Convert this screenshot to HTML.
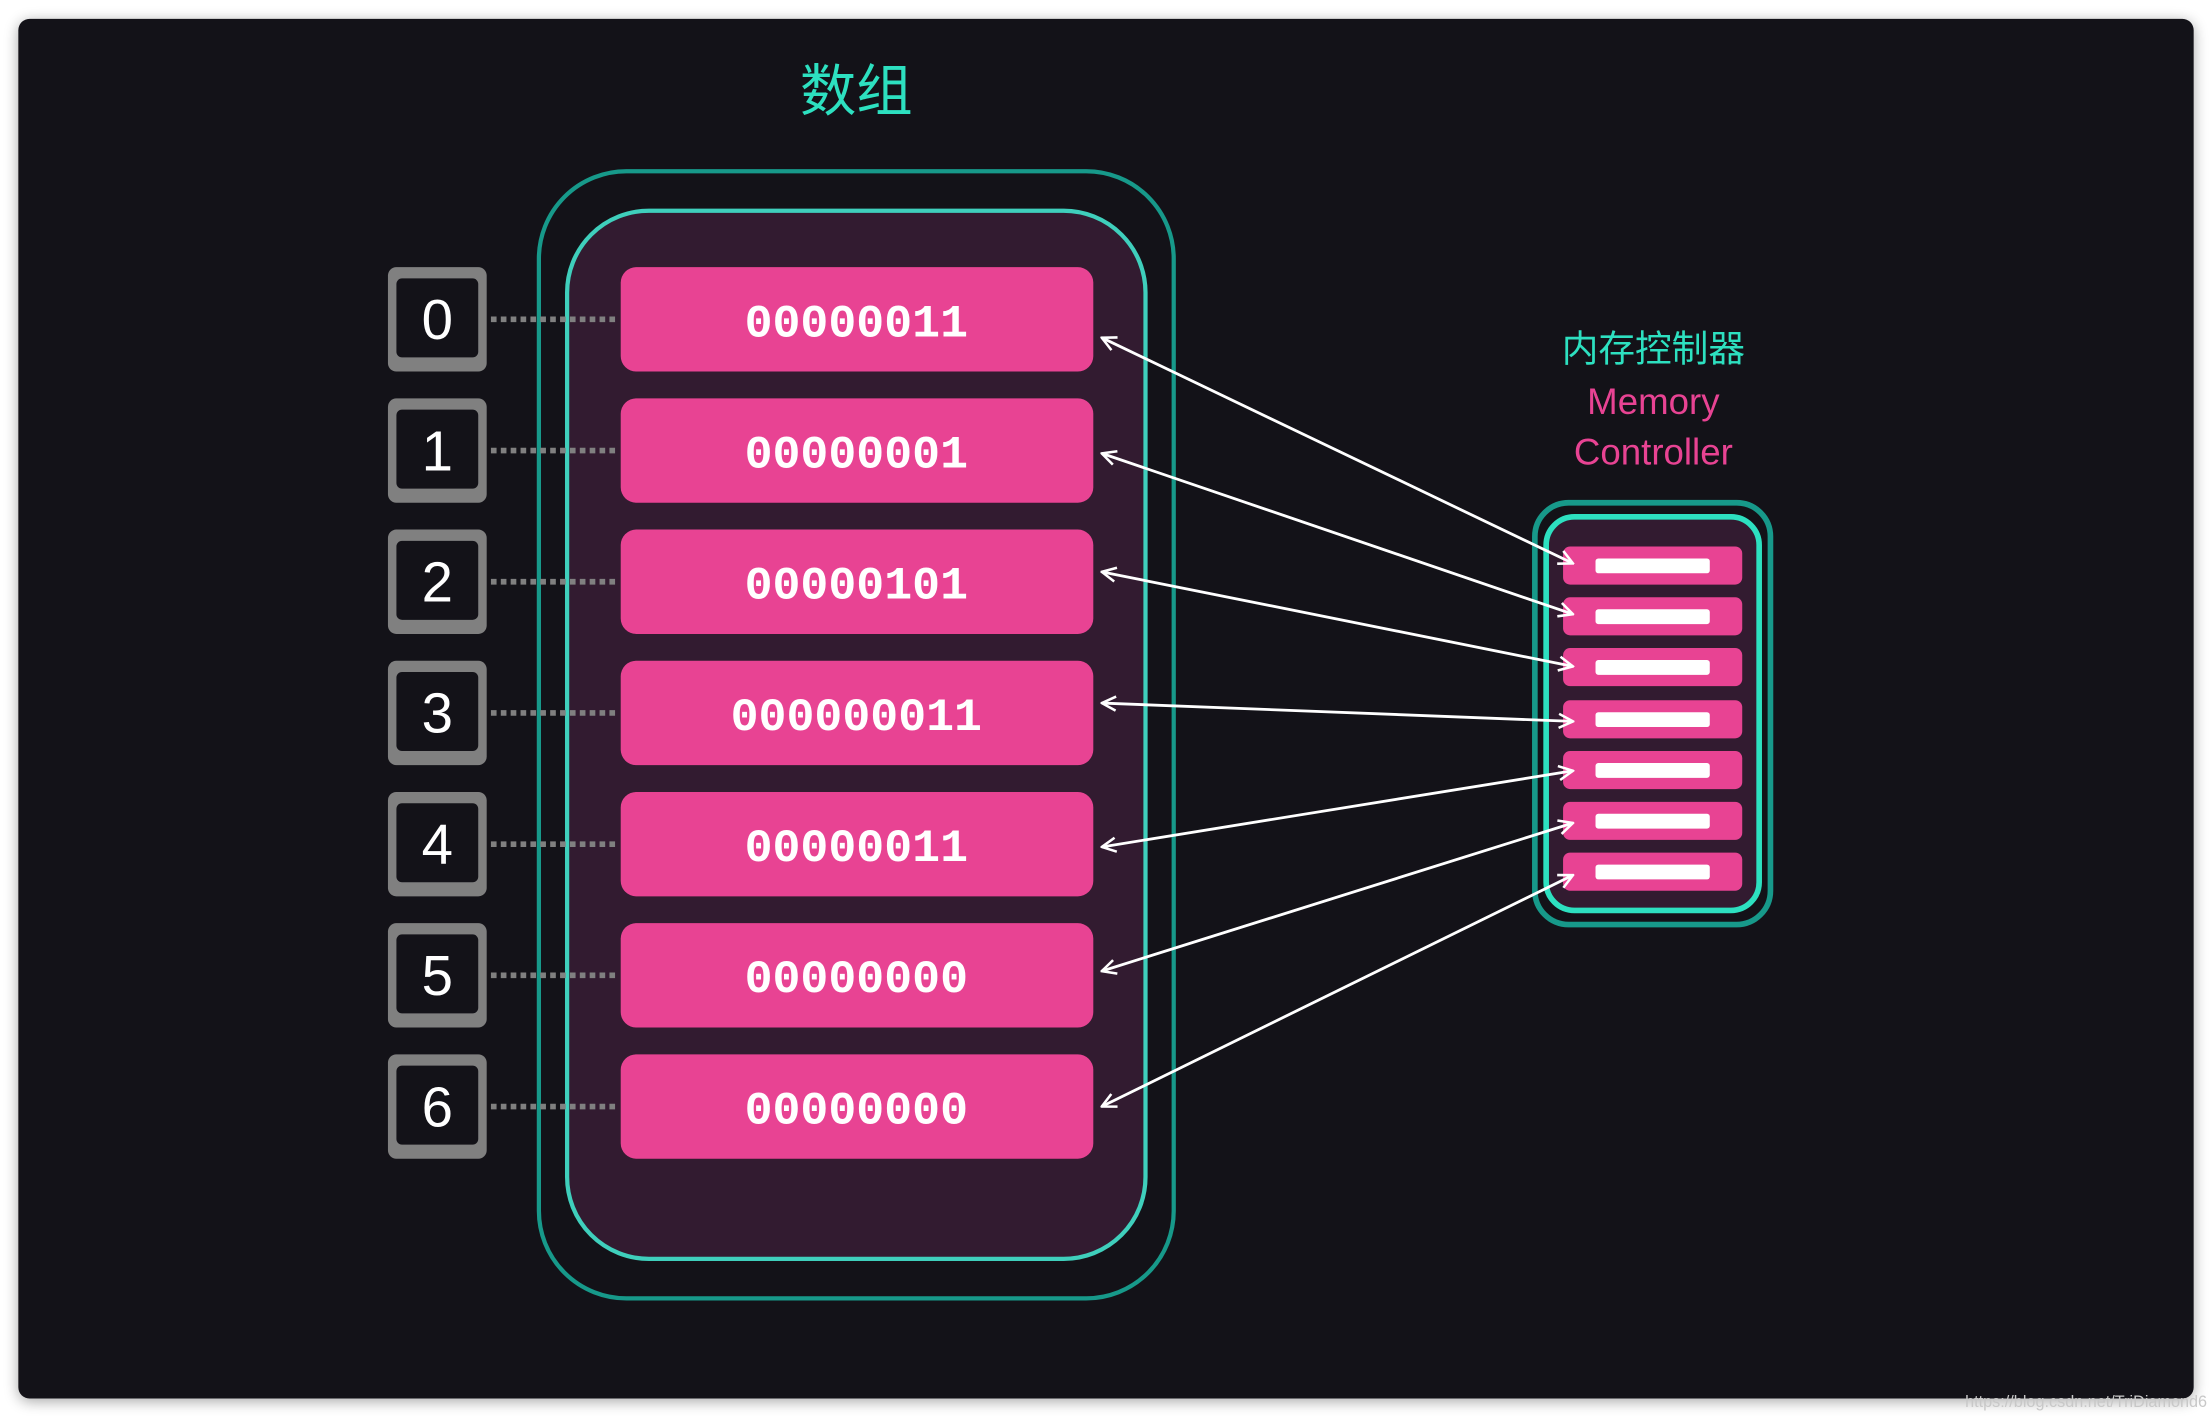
<!DOCTYPE html>
<html><head><meta charset="utf-8"><style>
html,body{margin:0;padding:0;background:#fff;width:2212px;height:1416px;overflow:hidden}
svg{display:block}
</style></head><body>
<svg width="2212" height="1416" viewBox="0 0 1568 1003" xmlns="http://www.w3.org/2000/svg">
<defs>
<filter id="sh" x="-5%" y="-5%" width="110%" height="110%"><feGaussianBlur stdDeviation="5"/></filter>
<marker id="ah" viewBox="0 0 12 12" refX="11" refY="6" markerWidth="12" markerHeight="12" markerUnits="userSpaceOnUse" orient="auto-start-reverse">
<path d="M1,1 L11,6 L1,11" fill="none" stroke="#fff" stroke-width="1.8"/></marker>
</defs>
<rect x="0" y="0" width="1568" height="1003" fill="#fff"/>
<rect x="13" y="15" width="1542" height="978" rx="8" fill="#000" opacity="0.35" filter="url(#sh)"/>
<rect x="13" y="13" width="1542" height="978" rx="8" fill="#131218"/>
<text x="1393" y="997" font-family="Liberation Sans, sans-serif" font-size="11.5" fill="#c8c8c8">https://blog.csdn.net/TriDiamond6</text>

<text x="607" y="78" text-anchor="middle" font-family="'Liberation Sans','Noto Sans CJK SC',sans-serif" font-size="40" fill="#2de0c0">数组</text>

<rect x="382" y="121" width="450" height="799" rx="62" fill="none" stroke="#17998a" stroke-width="3"/>
<rect x="402" y="149" width="410" height="743" rx="58" fill="#321b30" stroke="#3fcfbc" stroke-width="3"/>

<g font-family="'Liberation Mono',monospace" font-size="33" fill="#fff" text-anchor="middle" font-weight="bold">
<rect x="440" y="189" width="335" height="74" rx="11" fill="#e84393"/><text x="607" y="238">00000011</text>
<rect x="440" y="282" width="335" height="74" rx="11" fill="#e84393"/><text x="607" y="331">00000001</text>
<rect x="440" y="375" width="335" height="74" rx="11" fill="#e84393"/><text x="607" y="424">00000101</text>
<rect x="440" y="468" width="335" height="74" rx="11" fill="#e84393"/><text x="607" y="517">000000011</text>
<rect x="440" y="561" width="335" height="74" rx="11" fill="#e84393"/><text x="607" y="610">00000011</text>
<rect x="440" y="654" width="335" height="74" rx="11" fill="#e84393"/><text x="607" y="703">00000000</text>
<rect x="440" y="747" width="335" height="74" rx="11" fill="#e84393"/><text x="607" y="796">00000000</text>
</g>

<g font-family="'Liberation Sans',sans-serif" font-size="40" fill="#fff" text-anchor="middle">
<g id="ib">
<rect x="275" y="189" width="70" height="74" rx="6" fill="#808080"/><rect x="281" y="197" width="58" height="56" rx="4" fill="#131218"/><text x="310" y="240">0</text>
<rect x="275" y="282" width="70" height="74" rx="6" fill="#808080"/><rect x="281" y="290" width="58" height="56" rx="4" fill="#131218"/><text x="310" y="333">1</text>
<rect x="275" y="375" width="70" height="74" rx="6" fill="#808080"/><rect x="281" y="383" width="58" height="56" rx="4" fill="#131218"/><text x="310" y="426">2</text>
<rect x="275" y="468" width="70" height="74" rx="6" fill="#808080"/><rect x="281" y="476" width="58" height="56" rx="4" fill="#131218"/><text x="310" y="519">3</text>
<rect x="275" y="561" width="70" height="74" rx="6" fill="#808080"/><rect x="281" y="569" width="58" height="56" rx="4" fill="#131218"/><text x="310" y="612">4</text>
<rect x="275" y="654" width="70" height="74" rx="6" fill="#808080"/><rect x="281" y="662" width="58" height="56" rx="4" fill="#131218"/><text x="310" y="705">5</text>
<rect x="275" y="747" width="70" height="74" rx="6" fill="#808080"/><rect x="281" y="755" width="58" height="56" rx="4" fill="#131218"/><text x="310" y="798">6</text>
</g></g>

<g stroke="#808080" stroke-width="4" stroke-dasharray="4 3">
<line x1="348" y1="226" x2="437" y2="226"/><line x1="348" y1="319" x2="437" y2="319"/>
<line x1="348" y1="412" x2="437" y2="412"/><line x1="348" y1="505" x2="437" y2="505"/>
<line x1="348" y1="598" x2="437" y2="598"/><line x1="348" y1="691" x2="437" y2="691"/>
<line x1="348" y1="784" x2="437" y2="784"/>
</g>

<g text-anchor="middle" font-family="'Liberation Sans','Noto Sans CJK SC',sans-serif" font-size="26">
<text x="1172" y="256" fill="#2de0c0">内存控制器</text>
<text x="1172" y="293" fill="#e84393">Memory</text>
<text x="1172" y="329" fill="#e84393">Controller</text>
</g>

<rect x="1088" y="356" width="167" height="299" rx="24" fill="none" stroke="#17998a" stroke-width="4"/>
<rect x="1096" y="366" width="151" height="279" rx="20" fill="#321b30" stroke="#2de0c0" stroke-width="4"/>
<g fill="#e84393">
<rect x="1108" y="387" width="127" height="27" rx="5"/><rect x="1108" y="423" width="127" height="27" rx="5"/>
<rect x="1108" y="459" width="127" height="27" rx="5"/><rect x="1108" y="496" width="127" height="27" rx="5"/>
<rect x="1108" y="532" width="127" height="27" rx="5"/><rect x="1108" y="568" width="127" height="27" rx="5"/>
<rect x="1108" y="604" width="127" height="27" rx="5"/>
</g>
<g fill="#fff">
<rect x="1131" y="395.5" width="81" height="10.5" rx="2"/><rect x="1131" y="431.5" width="81" height="10.5" rx="2"/>
<rect x="1131" y="467.5" width="81" height="10.5" rx="2"/><rect x="1131" y="504.5" width="81" height="10.5" rx="2"/>
<rect x="1131" y="540.5" width="81" height="10.5" rx="2"/><rect x="1131" y="576.5" width="81" height="10.5" rx="2"/>
<rect x="1131" y="612.5" width="81" height="10.5" rx="2"/>
</g>

<g stroke="#fff" stroke-width="2" fill="none" marker-start="url(#ah)" marker-end="url(#ah)">
<line x1="781" y1="239" x2="1115" y2="399"/>
<line x1="781" y1="321" x2="1115" y2="435"/>
<line x1="781" y1="405" x2="1115" y2="472"/>
<line x1="781" y1="498" x2="1115" y2="511"/>
<line x1="781" y1="600" x2="1115" y2="546"/>
<line x1="781" y1="688" x2="1115" y2="583"/>
<line x1="781" y1="784" x2="1115" y2="620"/>
</g>
</svg>
</body></html>
